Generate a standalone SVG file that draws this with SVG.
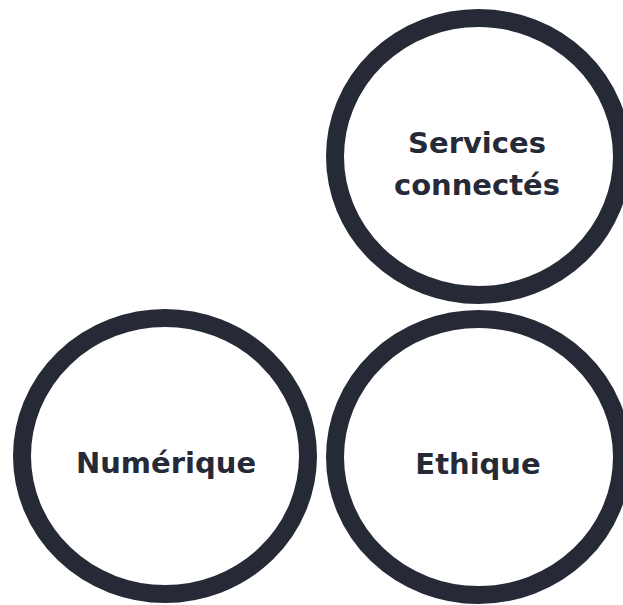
<svg xmlns="http://www.w3.org/2000/svg" width="623" height="605" viewBox="0 0 623 605">
<style>
.ring{fill:#ffffff;stroke:#252a36;stroke-width:18}
.lbl{font-family:"DejaVu Sans","Liberation Sans",sans-serif;font-weight:700;font-size:29px;fill:#252a36;text-anchor:middle}
</style>
<rect width="623" height="605" fill="#ffffff"/>
<g id="connectors"></g>
<g id="services">
<ellipse class="ring" cx="478.5" cy="156.5" rx="143.5" ry="138.5"/>
<text class="lbl" x="477" y="153">Services</text>
<text class="lbl" x="477" y="195">connectés</text>
</g>
<g id="numerique">
<ellipse class="ring" cx="165" cy="456" rx="143" ry="138"/>
<text class="lbl" x="166" y="473">Numérique</text>
</g>
<g id="ethique">
<ellipse class="ring" cx="478.5" cy="457" rx="143.5" ry="138"/>
<text class="lbl" x="478" y="474">Ethique</text>
</g>
</svg>
